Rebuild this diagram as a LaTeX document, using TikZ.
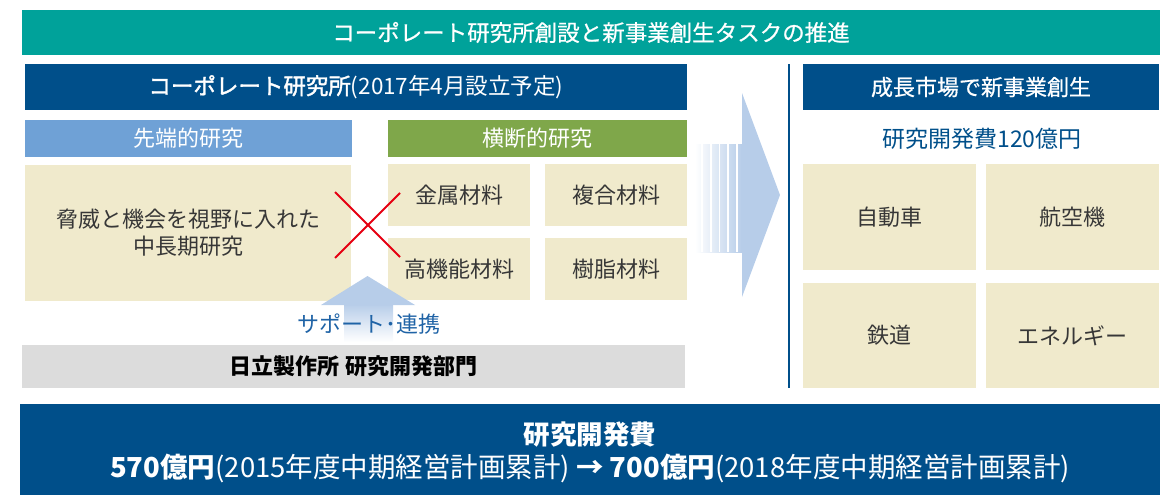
\documentclass[tikz,border=0pt]{standalone}
\usepackage{fontspec}
\setmainfont{Noto Sans CJK JP}
\newfontfamily\medfont[FakeBold=0.6]{Noto Sans CJK JP}
\newcommand\fsz[2]{\fontsize{#1}{#2}\selectfont}
\definecolor{tealbar}{RGB}{0,162,154}
\definecolor{darkblue}{RGB}{0,79,138}
\definecolor{lightblue}{RGB}{111,161,214}
\definecolor{greenbar}{RGB}{127,167,74}
\definecolor{beige}{RGB}{240,234,204}
\definecolor{graybar}{RGB}{220,220,220}
\definecolor{arrowblue}{RGB}{183,205,233}
\definecolor{redx}{RGB}{230,0,18}
\definecolor{txtgray}{RGB}{55,55,55}
\definecolor{supportblue}{RGB}{31,99,166}
\begin{document}
\begin{tikzpicture}[x=1pt,y=-1pt,
  bx/.style={inner sep=0pt, outer sep=0pt, align=center, text=txtgray, font=\fsz{22}{27}},
  hdr/.style={bx, text=white},
  cell/.style={bx, fill=beige},
  crossline/.style={draw=redx, line width=1.8pt},
]
\useasboundingbox (0,0) rectangle (1174,495);
% title bar
\node[hdr, fill=tealbar, minimum width=1138, minimum height=45, font=\medfont\fsz{22.5}{26}] (title) at (591,32.5) {コーポレート研究所創設と新事業創生タスクの推進};
% left headers
\node[hdr, fill=darkblue, minimum width=662, minimum height=46, font=\fsz{22.5}{26}] (corp) at (356,87) {{\medfont\addfontfeature{FakeBold=1.6}コーポレート研究所}(2017年4月設立予定)};
\node[hdr, fill=lightblue, minimum width=327, minimum height=37] (adv) at (188.5,138.5) {先端的研究};
\node[hdr, fill=greenbar, minimum width=299, minimum height=37] (cross) at (537.5,138.5) {横断的研究};
% left cells
\node[cell, minimum width=326, minimum height=136] (long) at (188,233) {脅威と機会を視野に入れた\\中長期研究};
\node[cell, minimum width=142, minimum height=62] (metal) at (459,195) {金属材料};
\node[cell, minimum width=142, minimum height=62] (comp) at (616,195) {複合材料};
\node[cell, minimum width=142, minimum height=62] (func) at (459,269) {高機能材料};
\node[cell, minimum width=142, minimum height=62] (resin) at (616,269) {樹脂材料};
% red cross
\coordinate (xa) at (335,192); \coordinate (xb) at (400,257);
\coordinate (xc) at (400,193); \coordinate (xd) at (335,258);
\draw[crossline] (xa) -- (xb);
\draw[crossline] (xc) -- (xd);
% up arrow
\shade[top color=arrowblue, bottom color=white] (344,304) rectangle (393,342);
\fill[arrowblue] (321,305) -- (367.5,276) -- (415,305) -- cycle;
\node[bx, text=supportblue] (support) at (369,324) {サポート･連携};
% gray bar
\node[bx, fill=graybar, text=black, minimum width=663, minimum height=43] (hitachi) at (353.5,366.5) {\textbf{日立製作所 研究開発部門}};
% big right arrow
\shade[left color=white, right color=arrowblue] (695,144) rectangle (742,252);
\foreach \sx in {702,711,719.5,728,737}{\draw[white, line width=1.6pt] (\sx,144) -- (\sx,252);}
\fill[arrowblue] (741,144) -- (742,144) -- (742,93) -- (780,195) -- (742,297) -- (742,252) -- (741,252) -- cycle;
% vertical divider
\draw[darkblue, line width=1.6pt] (789,64) -- (789,388);
% right side
\node[hdr, fill=darkblue, minimum width=356, minimum height=46, font=\medfont\fsz{22}{26}] (growth) at (981,87) {成長市場で新事業創生};
\node[bx, text=darkblue, font=\fsz{23}{27}] (budget) at (982,139) {研究開発費120億円};
\node[cell, minimum width=173, minimum height=106] (car) at (889.5,217) {自動車};
\node[cell, minimum width=173, minimum height=106] (air) at (1072.5,217) {航空機};
\node[cell, minimum width=173, minimum height=105] (rail) at (889.5,335.5) {鉄道};
\node[cell, minimum width=173, minimum height=105] (energy) at (1072.5,335.5) {エネルギー};
% bottom bar
\node[hdr, fill=darkblue, minimum width=1140, minimum height=91] (bottom) at (590,449.5) {};
\node[hdr, font=\fsz{26.5}{30}] (rd) at (590,435) {\textbf{研究開発費}};
\node[hdr, font=\fsz{27.5}{30}] (rdval) at (590,468) {\textbf{570億円}(2015年度中期経営計画累計) \textbf{→} \textbf{700億円}(2018年度中期経営計画累計)};
\end{tikzpicture}
\end{document}
